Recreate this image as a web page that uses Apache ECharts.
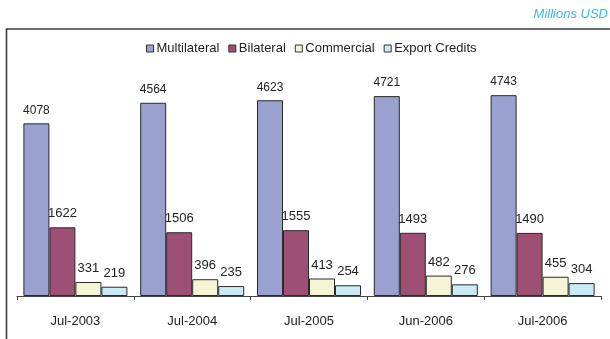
<!DOCTYPE html>
<html>
<head>
<meta charset="utf-8">
<script src="https://cdn.jsdelivr.net/npm/echarts@6/dist/echarts.min.js"></script>
<style>
  html, body { margin: 0; padding: 0; background: #fff; }
  #chart { width: 610px; height: 339px; }
</style>
</head>
<body>
<div id="chart"></div>
<script>
// Debt stock by creditor type, millions USD
const periods = ['Jul-2003', 'Jul-2004', 'Jul-2005', 'Jun-2006', 'Jul-2006'];
const multilateral = [4078, 4564, 4623, 4721, 4743];
const bilateral = [1622, 1506, 1555, 1493, 1490];
const commercial = [331, 396, 413, 482, 455];
const exportCredits = [219, 235, 254, 276, 304];

const seriesNames = ['Multilateral', 'Bilateral', 'Commercial', 'Export Credits'];
const seriesData = [multilateral, bilateral, commercial, exportCredits];
const seriesColors = ['#99A1D1', '#9E4F74', '#F5F5D6', '#CAEAF5'];
const labelSizes = [12, 13, 13, 13];

const FONT = '"Liberation Sans", Arial, sans-serif';

const chart = echarts.init(document.getElementById('chart'), null, { renderer: 'canvas' });

chart.setOption({
  animation: false,
  textStyle: { fontFamily: FONT },
  graphic: [
    {
      type: 'polyline',
      shape: { points: [[6.5, 339], [6.5, 29], [610, 29]] },
      style: { stroke: '#3a3a3a', lineWidth: 1.6, fill: null }
    },
    {
      type: 'text',
      right: 2,
      top: 8,
      style: {
        text: 'Millions USD',
        fill: '#35B8EC',
        font: 'italic 13px ' + FONT
      }
    }
  ],
  legend: {
    top: 42,
    left: 146,
    padding: 0,
    itemWidth: 7,
    itemHeight: 7,
    itemGap: 9,
    icon: 'rect',
    textStyle: { fontSize: 13, color: '#222', fontFamily: FONT, padding: [0, 0, 0, -2] },
    itemStyle: { borderColor: '#333', borderWidth: 1 },
    data: seriesNames
  },
  grid: { left: 17, right: 9, top: 84.3, bottom: 43, containLabel: false },
  xAxis: {
    type: 'category',
    data: periods,
    boundaryGap: true,
    axisLine: { lineStyle: { color: '#444', width: 1 } },
    axisTick: { show: true, length: 4, lineStyle: { color: '#444' } },
    axisLabel: { fontSize: 13, color: '#222', margin: 19, fontFamily: FONT }
  },
  yAxis: {
    type: 'value',
    min: 0,
    max: 5000,
    show: false,
    splitLine: { show: false }
  },
  series: seriesNames.map((name, i) => ({
    name: name,
    type: 'bar',
    data: seriesData[i],
    barWidth: 26,
    barGap: '0%',
    itemStyle: { color: seriesColors[i], borderColor: '#2a2a2a', borderWidth: 1 },
    label: {
      show: true,
      position: 'top',
      distance: 7,
      fontSize: labelSizes[i],
      color: '#222',
      fontFamily: FONT
    }
  }))
});
</script>
</body>
</html>
